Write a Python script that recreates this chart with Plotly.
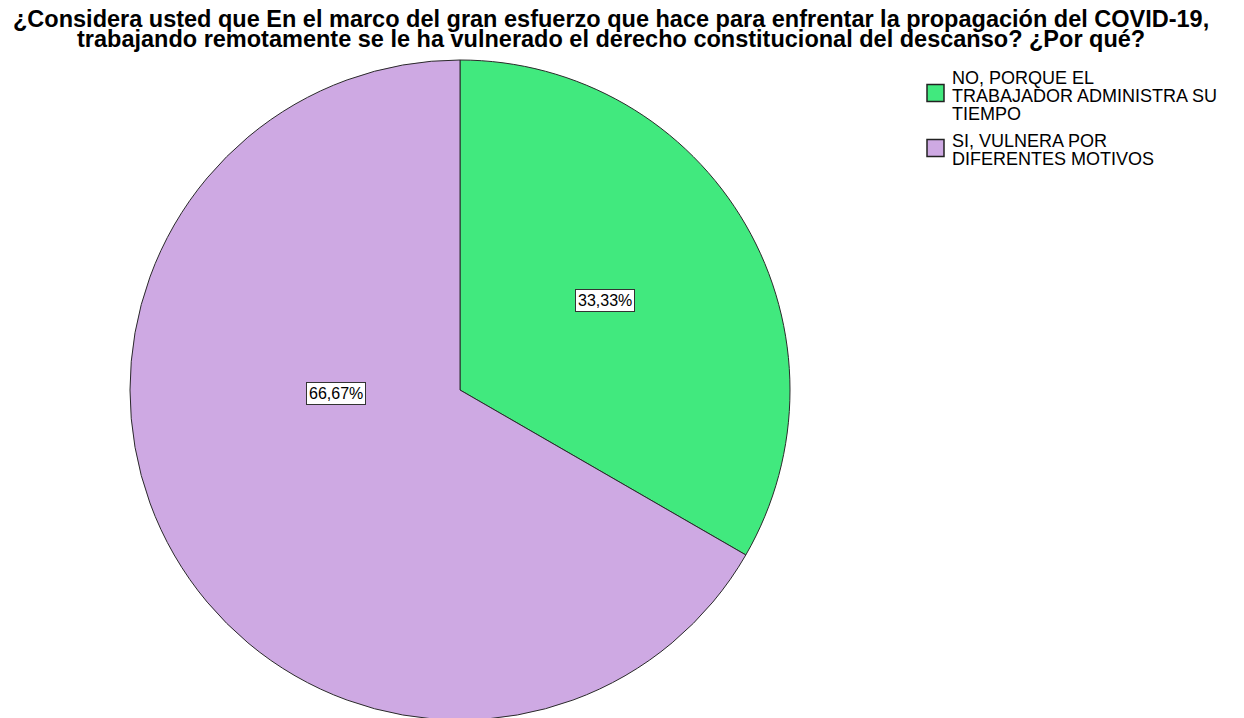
import plotly.graph_objects as go

title_lines = [
    "¿Considera usted que En el marco del gran esfuerzo que hace para enfrentar la propagación del COVID-19,",
    "trabajando remotamente se le ha vulnerado el derecho constitucional del descanso? ¿Por qué?",
]
categories = [
    "NO, PORQUE EL<br>TRABAJADOR ADMINISTRA SU<br>TIEMPO",
    "SI, VULNERA POR<br>DIFERENTES MOTIVOS",
]
values = [33.33, 66.67]
value_labels = ["33,33%", "66,67%"]
colors = ["#41E97E", "#CEA9E3"]

W, H = 1244, 718
OFF = 8  # page body margin of the browser


def px(x):
    return (x - OFF) / W


def py(y):
    return 1 - (y - OFF) / H


# pie geometry in picture pixels
cx, cy, R = 460, 390, 330
label_pos = [(605, 300), (336, 393)]
legend_x_box, legend_x_text = 927, 950
legend_line_y = [[77, 95, 113], [140, 158]]
legend_box_y = [93, 148]
box_size = 17

fig = go.Figure()
fig.add_trace(go.Pie(
    labels=categories,
    values=values,
    sort=False,
    direction="clockwise",
    rotation=0,
    marker=dict(colors=colors, line=dict(color="#2a2a2a", width=1)),
    textinfo="none",
    hoverinfo="label+percent",
    showlegend=False,
    domain=dict(x=[px(cx - R), px(cx + R)], y=[max(0, py(cy + R)), py(cy - R)]),
))

annotations = []
shapes = []
for line, yy in zip(title_lines, [19, 39]):
    annotations.append(dict(
        text="<b>" + line + "</b>", x=px(611), y=py(yy),
        xref="paper", yref="paper", xanchor="center", yanchor="middle",
        showarrow=False, font=dict(family="Liberation Sans", size=23.5, color="black"),
    ))
for (lx, ly), t in zip(label_pos, value_labels):
    annotations.append(dict(
        text=t, x=px(lx), y=py(ly), xref="paper", yref="paper",
        xanchor="center", yanchor="middle", showarrow=False,
        font=dict(family="Liberation Sans", size=16, color="black"),
        bgcolor="white", bordercolor="#333333", borderwidth=1, borderpad=2,
    ))
# legend
for cat, col, ys, by in zip(categories, colors, legend_line_y, legend_box_y):
    shapes.append(dict(
        type="rect", xref="paper", yref="paper",
        x0=px(legend_x_box), x1=px(legend_x_box + box_size),
        y0=py(by + box_size / 2), y1=py(by - box_size / 2),
        fillcolor=col, line=dict(color="#222222", width=1.5),
    ))
    for t, yy in zip(cat.split("<br>"), ys):
        annotations.append(dict(
            text=t, x=px(legend_x_text), y=py(yy + 1), xref="paper", yref="paper",
            xanchor="left", yanchor="middle", showarrow=False,
            font=dict(family="Liberation Sans", size=18, color="black"),
        ))

fig.update_layout(
    width=W, height=H,
    margin=dict(l=0, r=0, t=0, b=0),
    paper_bgcolor="white", plot_bgcolor="white",
    showlegend=False,
    annotations=annotations,
    shapes=shapes,
)

fig.write_html("out.html")
